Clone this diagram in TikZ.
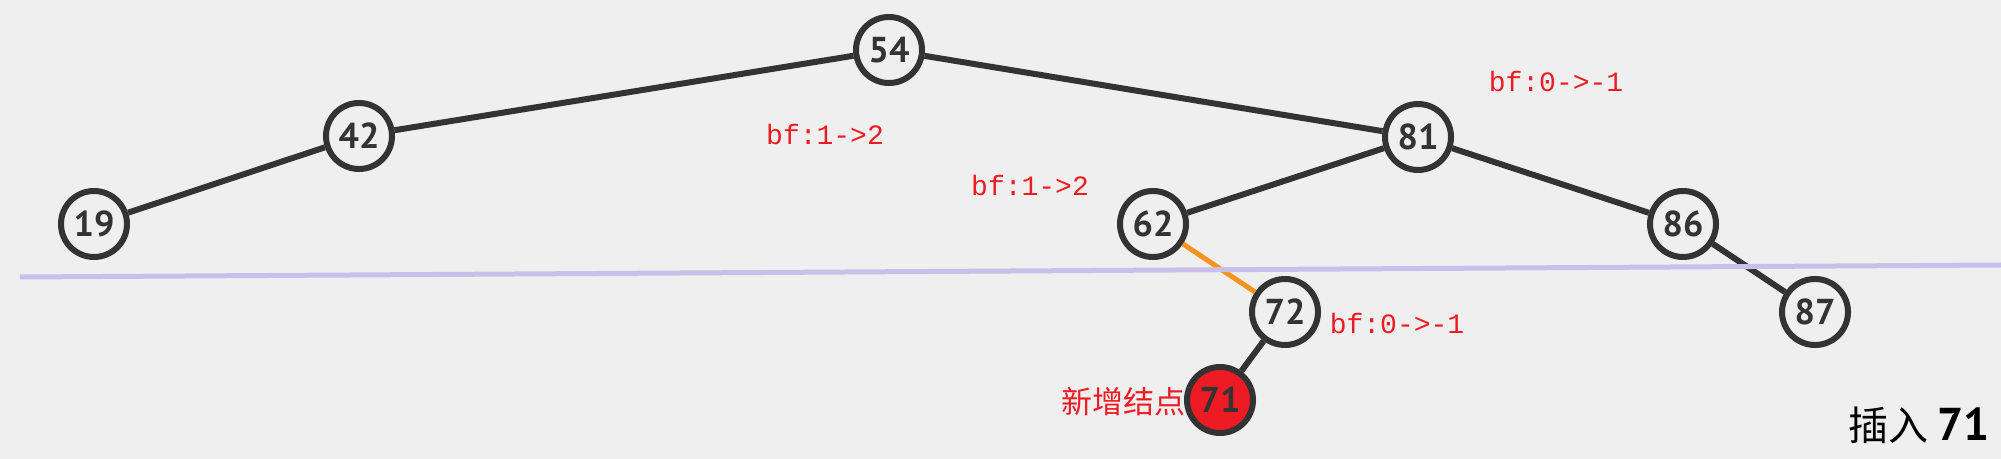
\documentclass[tikz,border=0pt]{standalone}
\usepackage{fontspec}
\newfontfamily\keyfont{PT Sans}
\newfontfamily\bffont{Liberation Mono}
\newfontfamily\cjk{Noto Sans CJK SC}
\usetikzlibrary{positioning}

\definecolor{bggray}{HTML}{EFEFEF}
\definecolor{edgegray}{HTML}{333333}
\definecolor{markred}{HTML}{ED1C24}
\definecolor{pathorange}{HTML}{F7931E}
\definecolor{cutpurple}{HTML}{C8C0E8}

\begin{document}
\begin{tikzpicture}[x=0.5pt,y=-0.5pt,
   key/.style={circle,draw=edgegray,line width=3pt,fill=bggray,minimum size=33pt,
     inner sep=0pt,text=edgegray,font=\keyfont\bfseries\fontsize{18}{18}\selectfont},
   newkey/.style={key,fill=markred},
   bf/.style={text=markred,font=\bffont\fontsize{14}{14}\selectfont},
   link/.style={draw=edgegray,line width=3pt},
   insertlink/.style={draw=pathorange,line width=2.5pt}]
   \useasboundingbox[fill=bggray] (0,0) rectangle (2001,459);
   % keys
   \node[key] (k54) at (889,50)  {54};
   \node[key] (k42) at (359,136) {42};
   \node[key] (k19) at (94,224)  {19};
   \node[key] (k81) at (1418,137) {81};
   \node[key] (k62) at (1153,224) {62};
   \node[key] (k86) at (1683,224) {86};
   \node[key] (k72) at (1285,312) {72};
   \node[key] (k87) at (1815,312) {87};
   \node[newkey] (k71) at (1220,400) {71};
    \path[link]
    (k54) edge (k42)
          edge (k81)
    (k42) edge (k19)
    (k81) edge (k62)
          edge (k86)
    (k86) edge (k87)
    (k72) edge (k71);
    \path[insertlink] (k62) edge (k72);
   % cut line
   \coordinate (cutL) at (20,277);
   \coordinate (cutR) at (2001,265);
   \draw[cutpurple,line width=2.5pt] (cutL) -- (cutR);
   % balance factors
   \node[bf] (bf54) at (825,134) {bf:1->2};
   \node[bf] (bf81) at (1556,81) {bf:0->-1};
   \node[bf] (bf62) at (1030,185) {bf:1->2};
   \node[bf] (bf72) at (1397,323) {bf:0->-1};
   \node[text=markred,font=\cjk\fontsize{15.5}{15.5}\selectfont,anchor=east,inner sep=0pt]
     (newtag) at (1186,402) {新增结点};
   \node[anchor=east,inner sep=0pt] (title) at (1990,425)
     {\cjk\fontsize{20}{20}\selectfont 插入 {\keyfont\bfseries\fontsize{23}{23}\selectfont 71}};
\end{tikzpicture}
\end{document}
